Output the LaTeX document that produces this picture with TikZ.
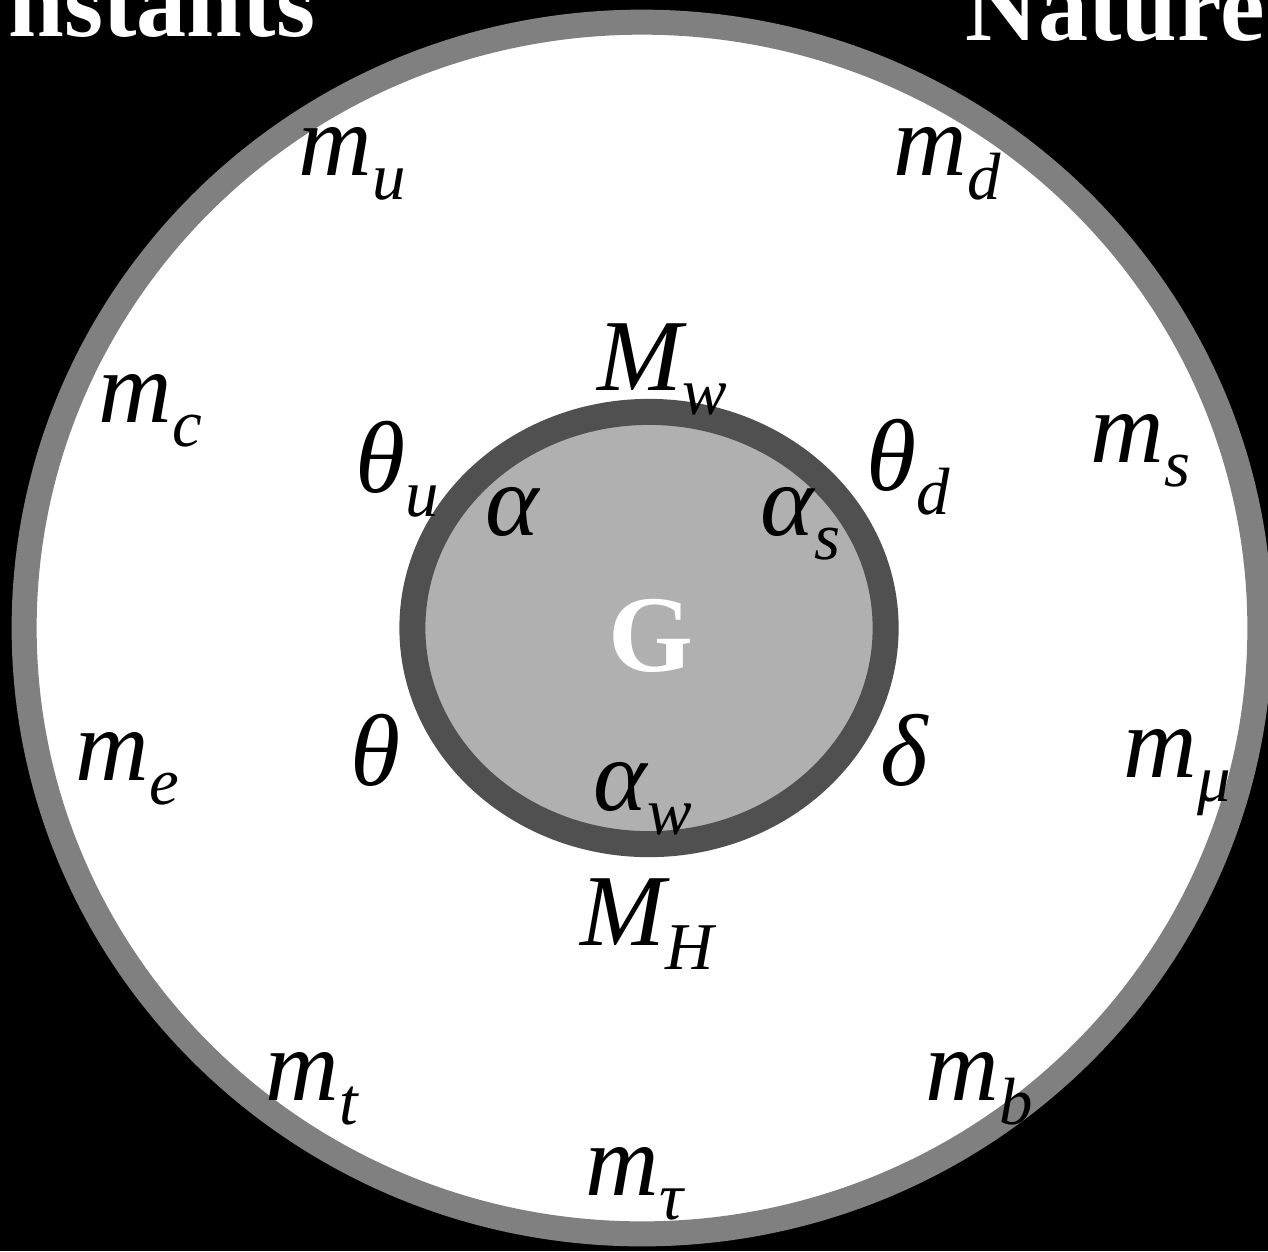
\documentclass[tikz,border=0pt]{standalone}
\usepackage{fontspec}
\setmainfont{Liberation Serif}
\usepackage{xcolor}
\definecolor{outerring}{HTML}{808080}
\definecolor{innerring}{HTML}{505050}
\definecolor{innerfill}{HTML}{B0B0B0}
\newcommand{\const}[2]{#1\raisebox{-0.24cm}{\fontsize{19}{19}\selectfont #2}}
\tikzset{
  constlabel/.style={font=\fontsize{29}{29}\selectfont\itshape, anchor=base west, inner sep=0pt},
  titletext/.style={font=\fontsize{28.5}{28.5}\selectfont\bfseries, text=white, anchor=base west, inner sep=0pt}
}

\begin{document}
\begin{tikzpicture}[x=0.01cm, y=-0.01cm]
  % Background and frame
  \fill[black] (0,0) rectangle (1268,1251);
  \useasboundingbox (0,0) rectangle (1268,1251);
  \clip (0,0) rectangle (1268,1251);

  % Title words, cut by the frame
  \node[titletext] (constants) at (8,36)  {nstants};
  \node[titletext] (nature)    at (965,40) {Nature};

  % Outer circle
  \draw[outerring, line width=0.25cm, fill=white]
        (642,628) ellipse [x radius=6.175cm, y radius=6.055cm];

  % Inner circle
  \draw[innerring, line width=0.26cm, fill=innerfill]
        (649,628) ellipse [x radius=2.365cm, y radius=2.16cm];
  \node[font=\fontsize{31}{31}\selectfont\bfseries, text=white] (grav) at (651,636) {G};

  % Constants inside the inner circle
  \node[constlabel] (alpha)  at (485,535) {α};
  \node[constlabel] (alphas) at (760,535) {\const{α}{s}};
  \node[constlabel] (alphaw) at (593,810) {\const{α}{w}};

  % Constants round the inner circle
  \node[constlabel] (mw)     at (597,390) {\const{M}{w}};
  \node[constlabel] (thetau) at (355,492) {\const{θ}{u}};
  \node[constlabel] (thetad) at (866,490) {\const{θ}{d}};
  \node[constlabel] (theta)  at (350,785) {θ};
  \node[constlabel] (delta)  at (880,785) {δ};
  \node[constlabel] (mh)     at (580,945) {\const{M}{H}};

  % Masses round the outer circle
  \node[constlabel] (mu)     at (298,175)  {\const{m}{u}};
  \node[constlabel] (md)     at (893,175)  {\const{m}{d}};
  \node[constlabel] (mc)     at (98,422)   {\const{m}{c}};
  \node[constlabel] (ms)     at (1090,462) {\const{m}{s}};
  \node[constlabel] (me)     at (75,780)   {\const{m}{e}};
  \node[constlabel] (mmu)    at (1123,777) {\const{m}{μ}};
  \node[constlabel] (mt)     at (265,1100) {\const{m}{t}};
  \node[constlabel] (mb)     at (925,1100) {\const{m}{b}};
  \node[constlabel] (mtau)   at (585,1195) {\const{m}{τ}};
\end{tikzpicture}
\end{document}
